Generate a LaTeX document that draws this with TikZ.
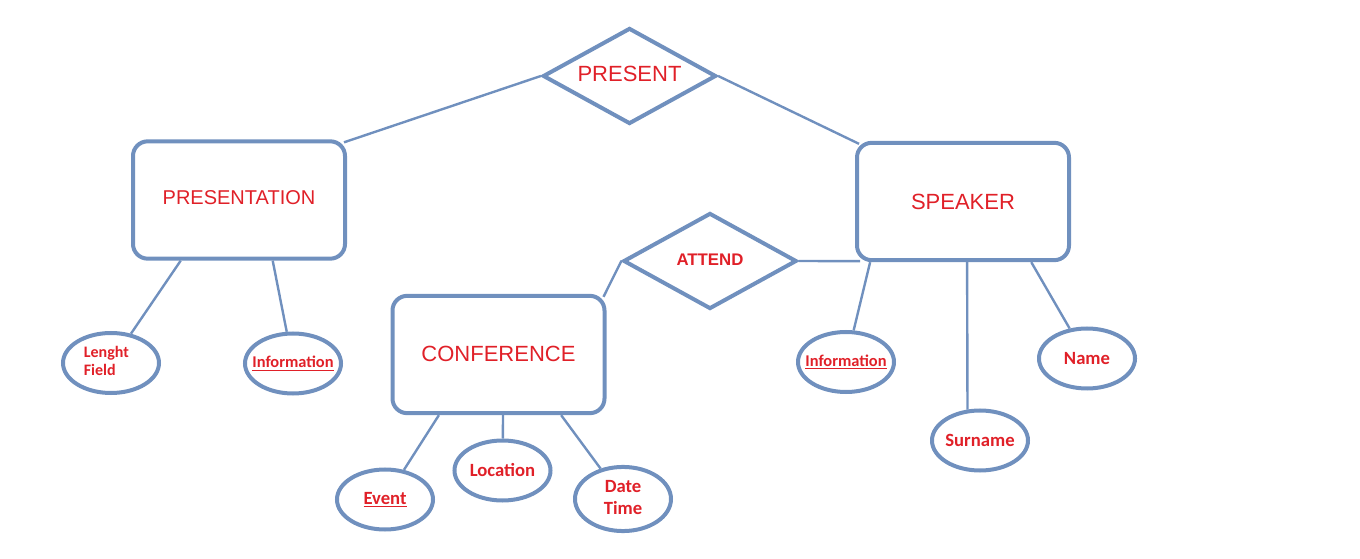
\documentclass[tikz,border=0pt]{standalone}
\usepackage{fontspec}
\setmainfont{Liberation Sans}
\newfontfamily\attrfont{Carlito}
\usetikzlibrary{shapes.geometric,calc}
\definecolor{erblue}{RGB}{112,144,190}
\definecolor{erred}{RGB}{224,32,40}
\tikzset{
  entity/.style={draw=erblue, line width=3pt, rounded corners=11pt, minimum width=159pt, minimum height=88pt, inner sep=0pt, text=erred},
  relation/.style={draw=erblue, line width=3pt, diamond, aspect=1.8, minimum width=130pt, minimum height=72pt, inner sep=0pt, text=erred},
  attr/.style={draw=erblue, line width=3pt, ellipse, minimum width=72pt, minimum height=45pt, inner sep=0pt, text=erred, font=\attrfont\bfseries\fontsize{14pt}{17pt}\selectfont},
  link/.style={draw=erblue, line width=1.8pt},
}
\begin{document}
\begin{tikzpicture}[x=0.75pt,y=-0.75pt]
\useasboundingbox (0,0) rectangle (1360,559);
% entities
\node[entity, font=\fontsize{15pt}{18pt}\selectfont] (presentation) at (239,200) {\raisebox{3pt}{PRESENTATION}};
\node[entity, font=\fontsize{16.5pt}{20pt}\selectfont] (speaker) at (963,201.5) {SPEAKER};
\node[entity, font=\fontsize{16.5pt}{20pt}\selectfont] (conference) at (498.5,354.5) {\raisebox{1pt}{CONFERENCE}};
% relations
\node[relation, font=\fontsize{16.5pt}{20pt}\selectfont] (present) at (629.5,76) {\raisebox{3pt}{PRESENT}};
\node[relation, font=\bfseries\fontsize{12.6pt}{15pt}\selectfont] (attend) at (710,261) {\raisebox{1.5pt}{ATTEND}};
% attributes
\node[attr, font=\attrfont\bfseries\fontsize{12pt}{13.5pt}\selectfont] (lenght) at (111,363) {\makebox[0pt]{\kern-7pt\begin{tabular}{@{}l@{}}Lenght\\Field\end{tabular}}};
\node[attr, font=\attrfont\bfseries\fontsize{12.3pt}{15pt}\selectfont] (infoL) at (293,363.5) {\makebox[0pt]{\underline{Information}}};
\node[attr] (event) at (385,499.5) {\makebox[0pt]{\underline{Event}}};
\node[attr] (location) at (502.5,470.5) {\makebox[0pt]{Location}};
\node[attr] (datetime) at (623,499) {\makebox[0pt]{\begin{tabular}{@{}c@{}}Date\\Time\end{tabular}}};
\node[attr, font=\attrfont\bfseries\fontsize{12.3pt}{15pt}\selectfont] (infoR) at (846,362) {\makebox[0pt]{\underline{Information}}};
\node[attr] (surname) at (980,440.5) {\makebox[0pt]{Surname}};
\node[attr] (name) at (1087,358.5) {\makebox[0pt]{Name}};
% relation links
\draw[link] (present.west) -- ($(presentation.north east)+(-3,3)$);
\draw[link] (present.east) -- ($(speaker.north west)+(4,3)$);
\draw[link] (attend.west) -- ($(conference.north east)+(-3,3)$);
\draw[link] (attend.east) -- ($(speaker.south west)+(5,-1)$);
% attribute links
\draw[link] ($(presentation.south west)!0.23!(presentation.south east)$) -- (lenght);
\draw[link] ($(presentation.south west)!0.656!(presentation.south east)$) -- (infoL);
\draw[link] ($(conference.south west)!0.224!(conference.south east)$) -- (event);
\draw[link] ($(conference.south west)!0.521!(conference.south east)$) -- (location);
\draw[link] ($(conference.south west)!0.79!(conference.south east)$) -- (datetime);
\draw[link] ($(speaker.south west)!0.07!(speaker.south east)$) -- (infoR);
\draw[link] ($(speaker.south west)!0.519!(speaker.south east)$) -- (surname.112);
\draw[link] ($(speaker.south west)!0.816!(speaker.south east)$) -- (name);
\end{tikzpicture}
\end{document}
